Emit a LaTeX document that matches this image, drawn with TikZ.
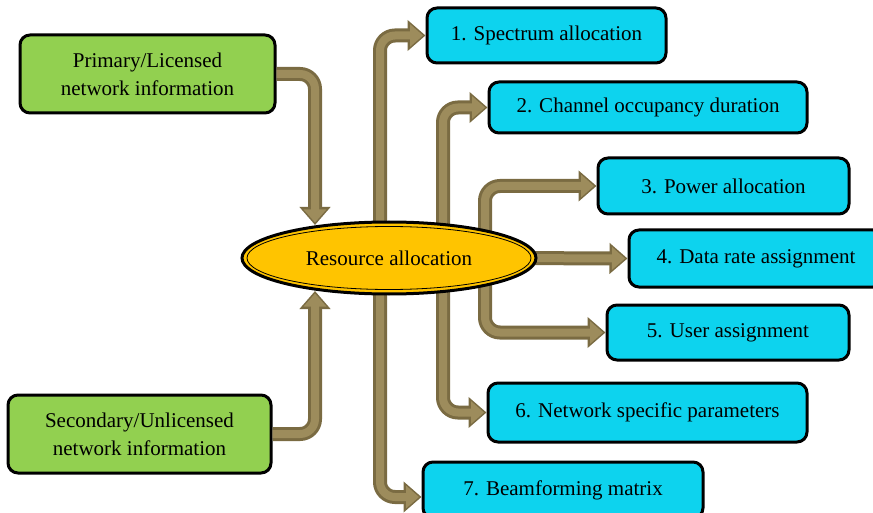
\documentclass[tikz,border=0pt]{standalone}
\usepackage{fontspec}
\setmainfont{Liberation Serif}
\usetikzlibrary{arrows.meta,shapes.geometric}
\definecolor{cyanbox}{HTML}{0DD3EE}
\definecolor{greenbox}{HTML}{92D050}
\definecolor{ellfill}{HTML}{FFC400}
\definecolor{arrdark}{HTML}{7A6B42}
\definecolor{arrlight}{HTML}{9D8C5C}
\tikzset{
  box/.style={draw=black, line width=3pt, rounded corners=10pt, align=center,
    font=\fontsize{21}{28}\selectfont, inner sep=0pt},
  bluebox/.style={box, fill=cyanbox},
  greenb/.style={box, fill=greenbox},
  fat/.style={rounded corners=15pt, line width=8pt, draw=arrlight,
    -{Triangle[length=13pt,width=22pt]}, shorten >=2.5pt,
    preaction={draw=arrdark, line width=14pt, shorten >=0pt,
      -{Triangle[length=18pt,width=30pt]}}}
}
\begin{document}
\begin{tikzpicture}[x=1pt,y=-1pt]
\useasboundingbox (0,0) rectangle (873,513);
% nodes
\node[greenb, minimum width=255pt, minimum height=78pt] (p) at (147.5,74) {Primary/Licensed\\network information};
\node[greenb, minimum width=263pt, minimum height=78pt] (s) at (139.5,434) {Secondary/Unlicensed\\network information};
\node[bluebox, minimum width=239pt, minimum height=55pt] (b1) at (546.5,35.5) {1. Spectrum allocation};
\node[bluebox, minimum width=318pt, minimum height=51pt] (b2) at (648,107.5) {2. Channel occupancy duration};
\node[bluebox, minimum width=251pt, minimum height=56pt] (b3) at (723.5,186) {3. Power allocation};
\node[bluebox, minimum width=254pt, minimum height=57pt] (b4) at (756,258.5) {4. Data rate assignment};
\node[bluebox, minimum width=242pt, minimum height=55pt] (b5) at (728,332.5) {5. User assignment};
\node[bluebox, minimum width=319pt, minimum height=59pt] (b6) at (647.5,412.5) {6. Network specific parameters};
\node[bluebox, minimum width=280pt, minimum height=56pt] (b7) at (563,490) {7. Beamforming matrix};
% anchor coordinates inside the ellipse
\coordinate (tin) at (315,225);
\coordinate (bin) at (315,291);
\coordinate (o1) at (380,258);
\coordinate (o2) at (443,258);
\coordinate (o3) at (485,258);
\coordinate (o4) at (500,258);
% connectors
\draw[fat] (p.east) -| (tin);
\draw[fat] (s.east) -| (bin);
\draw[fat] (o1) |- (b1.west);
\draw[fat] (o2) |- (b2.west);
\draw[fat] (o3) |- (b3.west);
\draw[fat] (o4) -- (b4.west);
\draw[fat] (o3) |- (b5.west);
\draw[fat] (o2) |- (b6.west);
\draw[fat] (o1) |- ([yshift=-7pt]b7.west);
% ellipse
\node[ellipse, draw=black, line width=3pt, fill=ellfill, minimum width=294pt, minimum height=72pt, inner sep=0pt] (ell) at (389,258) {};
\draw[line width=0.8pt] (ell.center) ellipse [x radius=142pt, y radius=31.5pt];
\node[font=\fontsize{21}{28}\selectfont] (ellt) at (ell.center) {Resource allocation};
\end{tikzpicture}
\end{document}
